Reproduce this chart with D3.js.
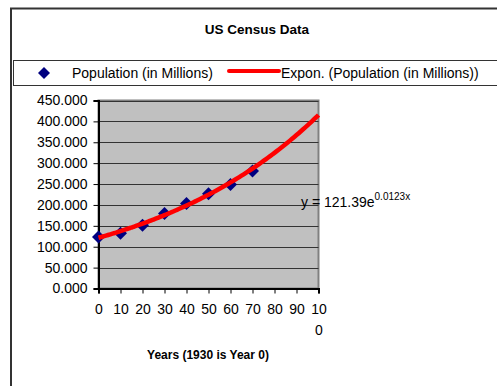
<!DOCTYPE html>
<html>
<head>
<meta charset="utf-8">
<script src="https://cdn.jsdelivr.net/npm/d3@7"></script>
<style>
  body { margin: 0; background: #fff; }
  text { font-family: Arial, "Liberation Sans", sans-serif; }
</style>
</head>
<body>
<div id="chart"></div>
<script>
// DATA ===========================================================================================
const years = [0, 10, 20, 30, 40, 50, 60, 70]
const population = [123.2, 132.2, 151.3, 179.3, 203.3, 226.5, 248.7, 281.4]
const xTicks = [0, 10, 20, 30, 40, 50, 60, 70, 80, 90, 100]
const yTicks = [0, 50, 100, 150, 200, 250, 300, 350, 400, 450]
const trendCoef = [121.39, 0.0123]   // y = a * e^(b x), from the chart's label
const trendX = d3.range(0, 100.5, 1)

// SET UP =========================================================================================
const width = 497, height = 386
const plot = {left: 98.5, top: 100.5, right: 318.5, bottom: 288.5}

const diamond = r => `M0,${-r}L${r},0L0,${r}L${-r},0Z`

const svg = d3.select('#chart').append('svg')
  .attr('width', width)
  .attr('height', height)

// outer chart border
svg.append('rect')
  .attr('x', 11).attr('y', 8.5)
  .attr('width', 495).attr('height', 400)
  .attr('fill', '#fff').attr('stroke', '#333').attr('stroke-width', 2)

svg.append('text')
  .attr('x', 257).attr('y', 34)
  .attr('text-anchor', 'middle')
  .attr('font-size', 13.5).attr('font-weight', 'bold')
  .text('US Census Data')

// LEGEND =========================================================================================
svg.append('rect')
  .attr('x', 13.5).attr('y', 60.5)
  .attr('width', 490).attr('height', 25)
  .attr('fill', '#fff').attr('stroke', '#333').attr('stroke-width', 1)

svg.append('path')
  .attr('d', diamond(6))
  .attr('transform', 'translate(44,73)')
  .attr('fill', '#000080')
svg.append('text')
  .attr('x', 72).attr('y', 78)
  .attr('font-size', 14)
  .text('Population (in Millions)')

svg.append('line')
  .attr('x1', 229).attr('x2', 279).attr('y1', 71).attr('y2', 71)
  .attr('stroke', '#ff0000').attr('stroke-width', 4).attr('stroke-linecap', 'round')
svg.append('text')
  .attr('x', 281).attr('y', 78)
  .attr('font-size', 14)
  .text('Expon. (Population (in Millions))')

// SCALES AND AXES ================================================================================
const x = d3.scaleLinear().domain([0, 100]).range([plot.left, plot.right])
const y = d3.scaleLinear().domain([0, 450]).range([plot.bottom, plot.top])

svg.append('rect')
  .attr('x', plot.left).attr('y', plot.top)
  .attr('width', plot.right - plot.left).attr('height', plot.bottom - plot.top)
  .attr('fill', '#c0c0c0').attr('stroke', '#808080').attr('stroke-width', 2)

svg.append('g')
  .selectAll('line')
  .data(yTicks.slice(1))
  .join('line')
    .attr('x1', plot.left).attr('x2', plot.right)
    .attr('y1', d => Math.round(y(d)) + 0.5).attr('y2', d => Math.round(y(d)) + 0.5)
    .attr('stroke', '#333').attr('stroke-width', 1)

const yAxis = svg.append('g')
  .attr('transform', `translate(${plot.left},0)`)
  .call(d3.axisLeft(y).tickValues(yTicks).tickSize(5).tickPadding(6).tickFormat(d3.format('.3f')))
yAxis.select('.domain').attr('stroke', '#000').attr('stroke-width', 2)
yAxis.selectAll('.tick line').attr('stroke', '#000')
yAxis.selectAll('.tick text')
  .attr('font-size', 14).attr('fill', '#000')
  .style('font-family', 'Arial, "Liberation Sans", sans-serif')

const xAxis = svg.append('g')
  .attr('transform', `translate(0,${plot.bottom})`)
  .call(d3.axisBottom(x).tickValues(xTicks).tickSize(5).tickPadding(11).tickFormat(''))
xAxis.select('.domain').attr('stroke', '#000').attr('stroke-width', 2)
xAxis.selectAll('.tick line').attr('stroke', '#000')
// Excel wraps "100" into "10" / "0"
xAxis.selectAll('.tick text')
  .attr('font-size', 14).attr('fill', '#000')
  .style('font-family', 'Arial, "Liberation Sans", sans-serif')
  .each(function(d) {
    const t = d3.select(this)
    const s = String(d)
    if (s.length > 2) {
      t.append('tspan').attr('x', 0).text(s.slice(0, 2))
      t.append('tspan').attr('x', 0).attr('dy', '1.45em').text(s.slice(2))
    } else {
      t.text(s)
    }
  })

svg.append('text')
  .attr('x', 208).attr('y', 359)
  .attr('text-anchor', 'middle')
  .attr('font-size', 12).attr('font-weight', 'bold')
  .text('Years (1930 is Year 0)')

// MARKS ==========================================================================================
svg.append('g')
  .selectAll('path')
  .data(years)
  .join('path')
    .attr('d', diamond(6.5))
    .attr('transform', (d, i) => `translate(${x(d)},${y(population[i])})`)
    .attr('fill', '#000080')

const trend = d3.line()
  .x(d => x(d))
  .y(d => y(trendCoef[0] * Math.exp(trendCoef[1] * d)))
  .curve(d3.curveMonotoneX)

svg.append('path')
  .datum(trendX)
  .attr('d', trend)
  .attr('fill', 'none')
  .attr('stroke', '#ff0000')
  .attr('stroke-width', 4.5)

const eq = svg.append('text')
  .attr('x', 301).attr('y', 207)
  .attr('font-size', 14)
eq.append('tspan').text('y = ' + trendCoef[0] + 'e')
eq.append('tspan').attr('dy', -7).attr('font-size', 10).text(trendCoef[1] + 'x')
</script>
</body>
</html>
